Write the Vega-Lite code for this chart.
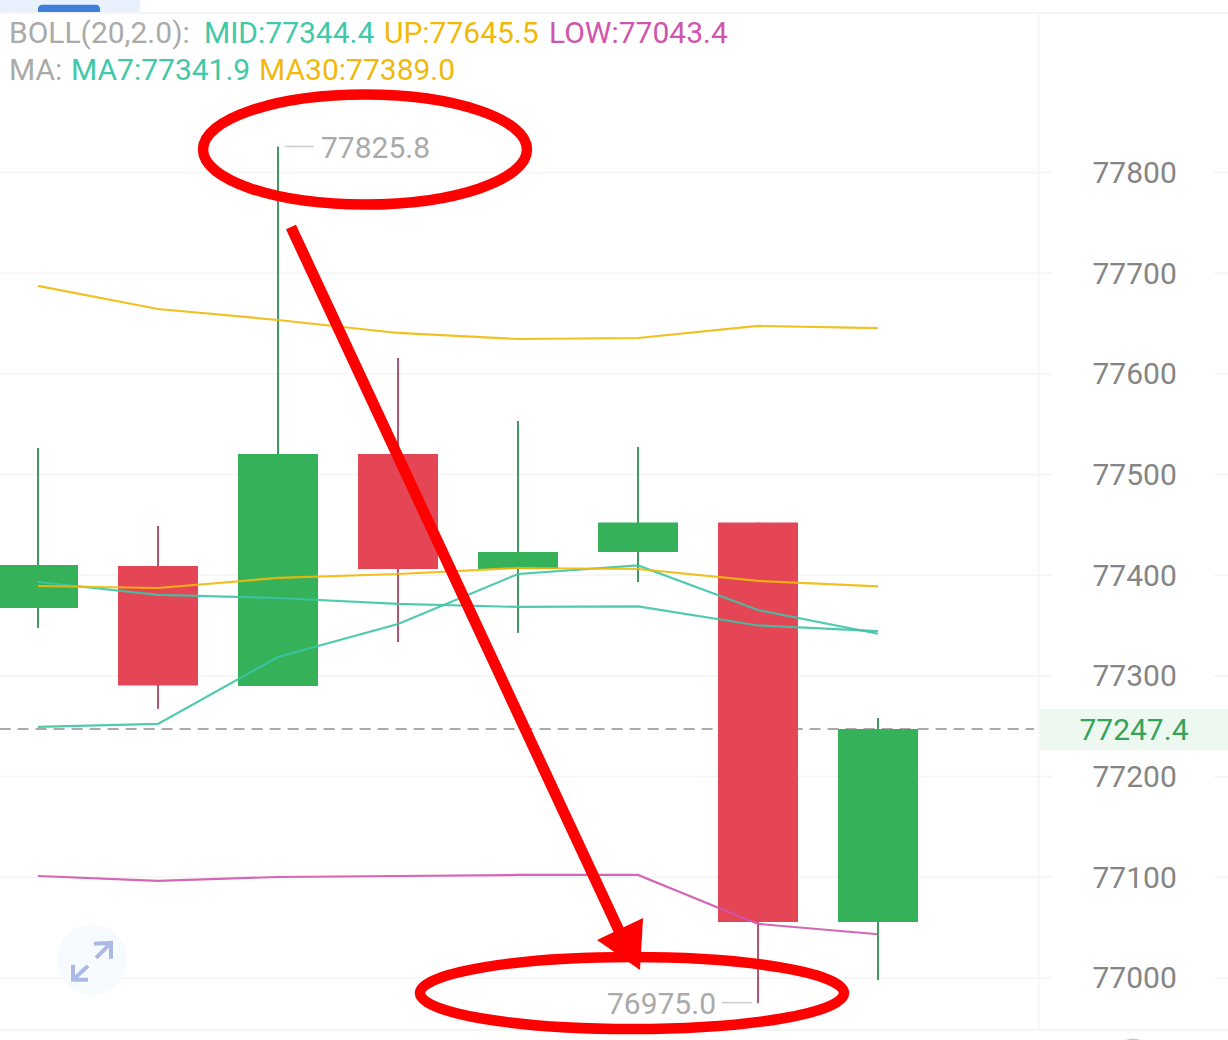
{
"$schema":"https://vega.github.io/schema/vega-lite/v6.json",
"width":1228,"height":1040,"padding":0,"autosize":{"type":"none"},
"background":"#ffffff",
"config":{"view":{"stroke":null}},
"datasets":{
"one":[{"n":1}],
"candles":[
{"i":0,"open":77367.5,"close":77410.2,"high":77526.4,"low":77347.6,"dir":"up"},
{"i":1,"open":77409.2,"close":77290.5,"high":77448.9,"low":77267.2,"dir":"down"},
{"i":2,"open":77290,"close":77520.4,"high":77825.8,"low":77290,"dir":"up"},
{"i":3,"open":77520.4,"close":77406.2,"high":77615.8,"low":77333.7,"dir":"down"},
{"i":4,"open":77406.2,"close":77423.1,"high":77553.2,"low":77342.7,"dir":"up"},
{"i":5,"open":77423.1,"close":77452.4,"high":77527.4,"low":77393.3,"dir":"up"},
{"i":6,"open":77452.4,"close":77055.6,"high":77452.4,"low":76975,"dir":"down"},
{"i":7,"open":77055.6,"close":77247.4,"high":77258.2,"low":76998,"dir":"up"}],
"lines":[
{"i":0,"s":"UP","v":77687.3},{"i":1,"s":"UP","v":77664.4},{"i":2,"s":"UP","v":77653.5},{"i":3,"s":"UP","v":77640.6},{"i":4,"s":"UP","v":77634.6},{"i":5,"s":"UP","v":77635.6},{"i":6,"s":"UP","v":77647.6},{"i":7,"s":"UP","v":77645.5},
{"i":0,"s":"LOW","v":77101.3},{"i":1,"s":"LOW","v":77096.4},{"i":2,"s":"LOW","v":77100.3},{"i":3,"s":"LOW","v":77101.3},{"i":4,"s":"LOW","v":77102.3},{"i":5,"s":"LOW","v":77102.3},{"i":6,"s":"LOW","v":77053.7},{"i":7,"s":"LOW","v":77043.4},
{"i":0,"s":"MID","v":77393.3},{"i":1,"s":"MID","v":77380.4},{"i":2,"s":"MID","v":77377.4},{"i":3,"s":"MID","v":77371.5},{"i":4,"s":"MID","v":77368.5},{"i":5,"s":"MID","v":77369},{"i":6,"s":"MID","v":77350.1},{"i":7,"s":"MID","v":77344.4},
{"i":0,"s":"MA7","v":77249.3},{"i":1,"s":"MA7","v":77252.3},{"i":2,"s":"MA7","v":77318.8},{"i":3,"s":"MA7","v":77351.6},{"i":4,"s":"MA7","v":77401.2},{"i":5,"s":"MA7","v":77409.7},{"i":6,"s":"MA7","v":77365.5},{"i":7,"s":"MA7","v":77341.9},
{"i":0,"s":"MA30","v":77389.3},{"i":1,"s":"MA30","v":77387.3},{"i":2,"s":"MA30","v":77397.3},{"i":3,"s":"MA30","v":77401.2},{"i":4,"s":"MA30","v":77407.2},{"i":5,"s":"MA30","v":77406.2},{"i":6,"s":"MA30","v":77394.3},{"i":7,"s":"MA30","v":77389}],
"grid":[{"p":77000},{"p":77100},{"p":77200},{"p":77300},{"p":77400},{"p":77500},{"p":77600},{"p":77700},{"p":77800}],
"labels":[
{"t":"BOLL(20,2.0):","at":-0.242,"p":77938,"c":"#aaaaaa"},
{"t":"MID:77344.4","at":1.383,"p":77938,"c":"#3fc9a8"},
{"t":"UP:77645.5","at":2.883,"p":77938,"c":"#f0b90b"},
{"t":"LOW:77043.4","at":4.258,"p":77938,"c":"#cf55ad"},
{"t":"MA:","at":-0.242,"p":77901,"c":"#aaaaaa"},
{"t":"MA7:77341.9","at":0.275,"p":77901,"c":"#3fc9a8"},
{"t":"MA30:77389.0","at":1.842,"p":77901,"c":"#f0b90b"},
{"t":"77825.8","at":2.358,"p":77823,"c":"#aaaaaa"}
],
"arrow":[{"at":2.108,"p":77745.9},{"at":4.917,"p":77027.8}]
},
"layer":[
{"data":{"name":"one"},"mark":{"type":"rect","color":"#e9f2fc"},"encoding":{"x":{"datum":-0.32,"type":"quantitative","scale":{"domain":[-0.3167,9.9167],"nice":false,"zero":false,"padding":0,"range":[0,1228]},"axis":null},"x2":{"datum":0.85},"y":{"datum":77985,"type":"quantitative","scale":{"domain":[76938.4,77971.3],"nice":false,"zero":false,"padding":0,"range":[1040,0]},"axis":{"orient":"right","offset":-136,"values":[77000,77100,77200,77300,77400,77500,77600,77700,77800],"format":"d","title":null,"domain":false,"ticks":false,"grid":false,"labelPadding":0,"labelOffset":1,"labelFont":"Roboto","labelFontSize":30,"labelColor":"#858585","labelAlign":"left","labelBaseline":"middle"}},"y2":{"datum":77958.5}}},
{"data":{"name":"one"},"mark":{"type":"rect","color":"#3f7fdc","cornerRadiusTopLeft":6,"cornerRadiusTopRight":6},"encoding":{"x":{"datum":0,"type":"quantitative"},"x2":{"datum":0.517},"y":{"datum":77966.5,"type":"quantitative"},"y2":{"datum":77958.5}}},
{"data":{"name":"one"},"mark":{"type":"rule","color":"#f3f4f5","strokeWidth":2},"encoding":{"y":{"datum":77958.5,"type":"quantitative"},"x":{"datum":-0.32,"type":"quantitative"},"x2":{"datum":9.92}}},
{"data":{"name":"one"},"mark":{"type":"rule","color":"#f3f4f5","strokeWidth":2},"encoding":{"y":{"datum":76948.5,"type":"quantitative"},"x":{"datum":-0.32,"type":"quantitative"},"x2":{"datum":9.92}}},
{"data":{"name":"one"},"mark":{"type":"rule","color":"#f5f6f7","strokeWidth":2},"encoding":{"x":{"datum":8.34,"type":"quantitative"},"y":{"datum":77958.5,"type":"quantitative"},"y2":{"datum":76948.5}}},
{"data":{"name":"grid"},"mark":{"type":"rule","color":"#f3f4f5","strokeWidth":1.5},"encoding":{"y":{"field":"p","type":"quantitative"},"x":{"datum":-0.32,"type":"quantitative"},"x2":{"datum":8.45}}},
{"data":{"name":"grid"},"mark":{"type":"rule","color":"#f3f4f5","strokeWidth":1.5},"encoding":{"y":{"field":"p","type":"quantitative"},"x":{"datum":9.8,"type":"quantitative"},"x2":{"datum":9.92}}},
{"data":{"name":"one"},"mark":{"type":"rect","color":"#edf8f1"},"encoding":{"x":{"datum":8.35,"type":"quantitative"},"x2":{"datum":9.92},"y":{"datum":77267.2,"type":"quantitative"},"y2":{"datum":77226.4}}},
{"data":{"name":"one"},"mark":{"type":"text","text":"77247.4","font":"Roboto","fontSize":30,"color":"#36a35a","align":"center","baseline":"middle"},"encoding":{"x":{"datum":9.133,"type":"quantitative"},"y":{"datum":77245,"type":"quantitative"}}},
{"data":{"name":"one"},"mark":{"type":"rule","color":"#aaaaaa","strokeWidth":2,"strokeDash":[11,7]},"encoding":{"y":{"datum":77247.4,"type":"quantitative"},"x":{"datum":-0.32,"type":"quantitative"},"x2":{"datum":8.3}}},
{"data":{"name":"candles"},"mark":{"type":"rule","strokeWidth":2},"encoding":{"x":{"field":"i","type":"quantitative"},"y":{"field":"high","type":"quantitative"},"y2":{"field":"low"},"color":{"field":"dir","type":"nominal","legend":null,"scale":{"domain":["up","down"],"range":["#3f9b62","#b8526f"]}}}},
{"data":{"name":"candles"},"mark":{"type":"bar","size":80},"encoding":{"x":{"field":"i","type":"quantitative"},"y":{"field":"open","type":"quantitative"},"y2":{"field":"close"},"fill":{"field":"dir","type":"nominal","legend":null,"scale":{"domain":["up","down"],"range":["#34b159","#e54656"]}}}},
{"data":{"name":"lines"},"mark":{"type":"line","strokeWidth":2.2,"opacity":0.9},"encoding":{"x":{"field":"i","type":"quantitative"},"y":{"field":"v","type":"quantitative"},"detail":{"field":"s"},"stroke":{"field":"s","type":"nominal","legend":null,"scale":{"domain":["UP","LOW","MID","MA7","MA30"],"range":["#f0b90b","#cf55ad","#3cc4a6","#3cc4a6","#f0b90b"]}}}},
{"data":{"name":"one"},"mark":{"type":"rule","color":"#cccccc","strokeWidth":1.5},"encoding":{"y":{"datum":77825.8,"type":"quantitative"},"x":{"datum":2.058,"type":"quantitative"},"x2":{"datum":2.3}}},
{"data":{"name":"one"},"mark":{"type":"rule","color":"#cccccc","strokeWidth":1.5},"encoding":{"y":{"datum":76975.5,"type":"quantitative"},"x":{"datum":5.7,"type":"quantitative"},"x2":{"datum":5.95}}},
{"data":{"name":"labels"},"mark":{"type":"text","font":"Roboto","fontSize":30,"align":"left","baseline":"middle"},"encoding":{"x":{"field":"at","type":"quantitative"},"y":{"field":"p","type":"quantitative"},"text":{"field":"t"},"color":{"field":"c","type":"nominal","scale":null}}},
{"data":{"name":"one"},"mark":{"type":"text","text":"76975.0","font":"Roboto","fontSize":30,"color":"#aaaaaa","align":"right","baseline":"middle"},"encoding":{"x":{"datum":5.65,"type":"quantitative"},"y":{"datum":76973,"type":"quantitative"}}},
{"data":{"name":"one"},"mark":{"type":"point","filled":true,"size":5000,"shape":"circle","color":"#f7fafe","opacity":1},"encoding":{"x":{"datum":0.45,"type":"quantitative"},"y":{"datum":77018,"type":"quantitative"}}},
{"data":{"name":"one"},"mark":{"type":"point","filled":false,"size":4,"shape":"M2,-16 L19,-17 L19,-1 M19,-17 L4,-2 M-19,5 L-19,20 L-4,20 M-19,20 L-4,6","stroke":"#abb9e6","strokeWidth":4,"opacity":1},"encoding":{"x":{"datum":0.45,"type":"quantitative"},"y":{"datum":77018,"type":"quantitative"}}},
{"data":{"name":"one"},"mark":{"type":"point","filled":true,"size":1963,"shape":"circle","color":"#c4c4c4","opacity":1},"encoding":{"x":{"datum":9.125,"type":"quantitative"},"y":{"datum":76917.6,"type":"quantitative"}}},
{"data":{"name":"one"},"mark":{"type":"point","filled":false,"size":4,"shape":"M-162,0 A162,55 0 1,0 162,0 A162,55 0 1,0 -162,0 Z","stroke":"#ff0000","strokeWidth":10.5,"opacity":1},"encoding":{"x":{"datum":2.725,"type":"quantitative"},"y":{"datum":77822.8,"type":"quantitative"}}},
{"data":{"name":"one"},"mark":{"type":"point","filled":false,"size":4,"shape":"M-212,0 A212,36 0 1,0 212,0 A212,36 0 1,0 -212,0 Z","stroke":"#ff0000","strokeWidth":10.5,"opacity":1},"encoding":{"x":{"datum":4.95,"type":"quantitative"},"y":{"datum":76985,"type":"quantitative"}}},
{"data":{"name":"arrow"},"mark":{"type":"line","color":"#ff0000","strokeWidth":11},"encoding":{"x":{"field":"at","type":"quantitative"},"y":{"field":"p","type":"quantitative"}}},
{"data":{"name":"one"},"mark":{"type":"point","filled":true,"size":4,"shape":"M0,0 L-43,-30 L3,-52 Z","color":"#ff0000","opacity":1},"encoding":{"x":{"datum":5.017,"type":"quantitative"},"y":{"datum":77008,"type":"quantitative"}}}
],
"resolve":{"scale":{"color":"independent","fill":"independent","stroke":"independent"}}
}
